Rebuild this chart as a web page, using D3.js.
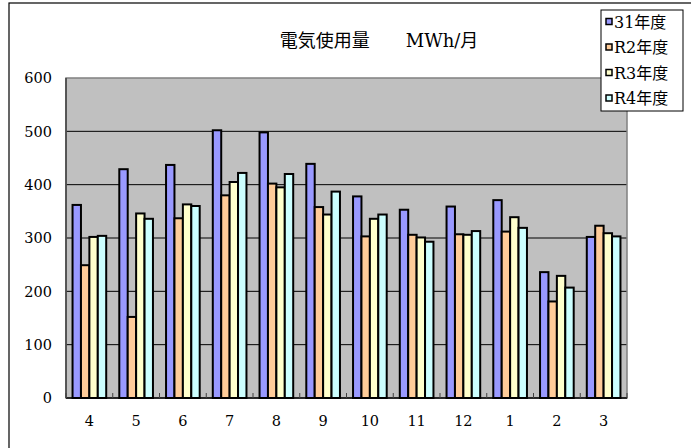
<!DOCTYPE html>
<html><head><meta charset="utf-8">
<script src="https://cdn.jsdelivr.net/npm/d3@7"></script>
<style>html,body{margin:0;padding:0;background:#fff;}svg{display:block;}</style>
</head><body>
<svg id="chart" width="691" height="448"></svg>
<script>
const months = ["4","5","6","7","8","9","10","11","12","1","2","3"];
const seriesNames = ["31年度","R2年度","R3年度","R4年度"];
const s31 = [362,429,437,502,498,439,378,353,359,371,236,302];
const sR2 = [249,152,337,380,402,358,303,306,307,312,181,323];
const sR3 = [302,346,363,405,395,344,336,301,306,339,229,309];
const sR4 = [304,336,360,422,420,387,344,293,313,319,207,303];
const seriesValues = [s31,sR2,sR3,sR4];
const yTicks = [0,100,200,300,400,500,600];
const colors = ["#9999FF","#FFCC99","#FFFFCC","#CCFFFF"];
const title = "電気使用量\u3000\u3000MWh/月";

const svg = d3.select("#chart");
const numFont = "'DejaVu Serif','Noto Sans CJK JP',serif";
const cjkFont = "'DejaVu Serif','Noto Sans CJK JP',serif";

// outer chart border
svg.append("rect").attr("x",9).attr("y",3).attr("width",720).attr("height",480)
  .attr("fill","#fff").attr("stroke","#000").attr("stroke-width",1.2);

const L=66, R=627, T=78, B=398;
const x0 = d3.scaleBand().domain(months).range([L,R]).paddingInner(0.28).paddingOuter(0.14);
const x1 = d3.scaleBand().domain(d3.range(seriesNames.length)).range([0,x0.bandwidth()]);
const y = d3.scaleLinear().domain([0,600]).range([B,T]);

// plot background
svg.append("rect").attr("x",L).attr("y",T).attr("width",R-L).attr("height",B-T).attr("fill","#C0C0C0");

// gridlines
svg.append("g").selectAll("line").data(yTicks.filter(d=>d>0&&d<600)).join("line")
  .attr("x1",L).attr("x2",R).attr("y1",d=>y(d)).attr("y2",d=>y(d))
  .attr("stroke","#000").attr("stroke-width",1);

// plot border
svg.append("rect").attr("x",L).attr("y",T).attr("width",R-L).attr("height",B-T)
  .attr("fill","none").attr("stroke","#808080").attr("stroke-width",1.5);

// bars
const groups = svg.append("g").selectAll("g").data(months).join("g")
  .attr("transform",d=>`translate(${x0(d)},0)`);
groups.selectAll("rect").data((m,i)=>seriesValues.map((s,k)=>({k,v:s[i]}))).join("rect")
  .attr("x",d=>x1(d.k)).attr("width",x1.bandwidth())
  .attr("y",d=>y(d.v)).attr("height",d=>B-y(d.v))
  .attr("fill",d=>colors[d.k]).attr("stroke","#000").attr("stroke-width",2);

// x axis line and ticks (inside)
const step = x0.step();
svg.append("line").attr("x1",L).attr("x2",R).attr("y1",B).attr("y2",B).attr("stroke","#000").attr("stroke-width",1.5);
svg.append("g").selectAll("line").data(d3.range(months.length+1)).join("line")
  .attr("x1",i=>L+i*step).attr("x2",i=>L+i*step).attr("y1",B).attr("y2",B-5)
  .attr("stroke","#404040").attr("stroke-width",1);

// y axis line
svg.append("line").attr("x1",L).attr("x2",L).attr("y1",T).attr("y2",B).attr("stroke","#404040").attr("stroke-width",1.5);

// y labels
svg.append("g").selectAll("text").data(yTicks).join("text")
  .attr("x",52).attr("y",d=>y(d)).attr("dy","0.36em").attr("text-anchor","end")
  .attr("font-family",numFont).attr("font-size",14.5).attr("fill","#000").text(d=>d);

// x labels
svg.append("g").selectAll("text").data(months).join("text")
  .attr("x",d=>x0(d)+x0.bandwidth()/2).attr("y",421).attr("dy","0.36em").attr("text-anchor","middle")
  .attr("font-family",numFont).attr("font-size",14.5).attr("fill","#000").text(d=>d);

// title
svg.append("text").attr("x",379).attr("y",47).attr("text-anchor","middle")
  .attr("font-family",cjkFont).attr("font-size",18).attr("fill","#000")
  .style("white-space","pre").text(title);

// legend
const lg = svg.append("g");
lg.append("rect").attr("x",601).attr("y",10).attr("width",82).attr("height",101)
  .attr("fill","#fff").attr("stroke","#000").attr("stroke-width",1);
const items = lg.selectAll("g").data(seriesNames).join("g")
  .attr("transform",(d,i)=>`translate(0,${22+i*25.5})`);
items.append("rect").attr("x",606).attr("y",-3.5).attr("width",6).attr("height",6)
  .attr("fill",(d,i)=>colors[i]).attr("stroke","#000").attr("stroke-width",1.5);
items.append("text").attr("x",614).attr("y",0).attr("dy","0.36em")
  .attr("font-family",cjkFont).attr("font-size",16).attr("fill","#000").text(d=>d);
</script>
</body></html>
